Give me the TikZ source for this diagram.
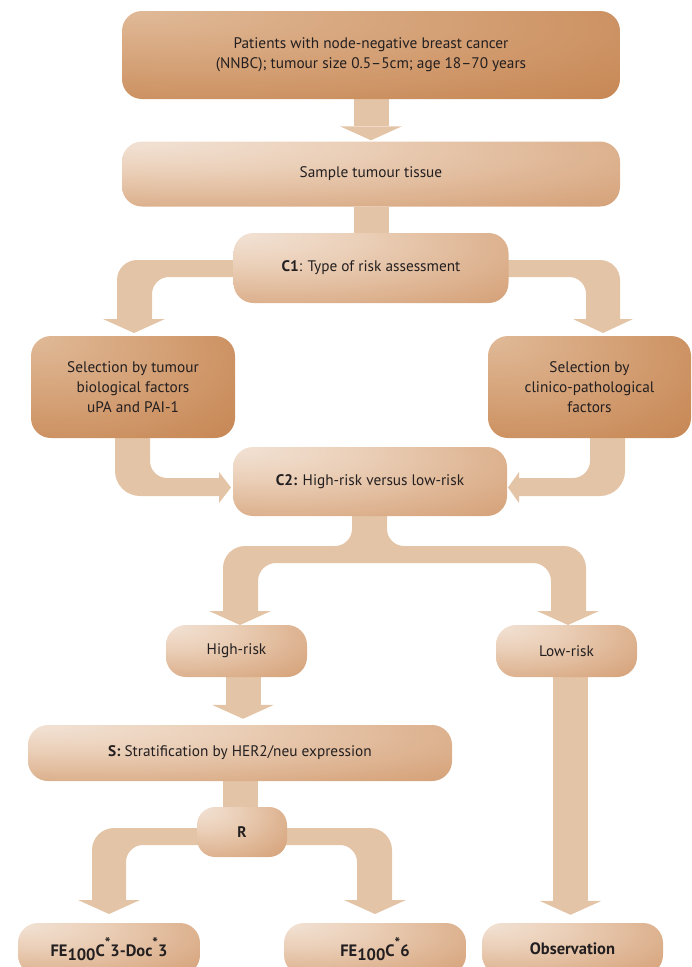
\documentclass[tikz,border=0pt]{standalone}
\usepackage{fontspec}
\setmainfont{PT Sans}
\usetikzlibrary{arrows.meta,backgrounds,calc}
\definecolor{conn}{HTML}{E4C4A6}
\definecolor{txt}{HTML}{231F20}
\definecolor{lb0}{HTML}{F2E2D5}
\definecolor{lb1}{HTML}{EBD0B9}
\definecolor{lb2}{HTML}{D9AA84}
\definecolor{lb3}{HTML}{C88C5E}
\definecolor{db0}{HTML}{E0BA98}
\definecolor{db1}{HTML}{D8A880}
\definecolor{db2}{HTML}{CA8D5C}
\definecolor{db3}{HTML}{BF7843}
\pgfdeclareradialshading{lightbox}{\pgfpoint{-25bp}{25bp}}{color(0bp)=(lb0); color(18bp)=(lb1); color(45bp)=(lb2); color(70bp)=(lb3); color(100bp)=(lb3)}
\pgfdeclareradialshading{darkbox}{\pgfpoint{-25bp}{25bp}}{color(0bp)=(db0); color(18bp)=(db1); color(45bp)=(db2); color(70bp)=(db3); color(100bp)=(db3)}
\newcommand{\subh}[1]{\raisebox{-3.5pt}{#1}}
\newcommand{\astk}{\raisebox{8pt}{\fontsize{15}{15}\selectfont *}}
\begin{document}
\begin{tikzpicture}[x=1pt,y=-1pt,
  box/.style={rounded corners=20pt, inner sep=0pt, align=center, text=txt,
    font=\fontsize{15.3}{20}\selectfont},
  lbox/.style={box, shading=lightbox},
  dbox/.style={box, shading=darkbox},
  endbox/.style={lbox, minimum height=52pt, font=\fontsize{16.5}{20}\selectfont\bfseries},
  bigarrow/.style={draw=conn, line width=35pt,
    -{Triangle[width=62pt,length=14pt,line width=0pt]}},
  shaft/.style={draw=conn, line width=35pt},
  connfill/.style={fill=conn}]
\path[use as bounding box] (0,0) rectangle (692,967);
\clip (0,0) rectangle (692,967);

\node[dbox, minimum width=498pt, minimum height=88pt] (top) at (371,55)
  {Patients with node-negative breast cancer\\(NNBC); tumour size 0.5–5cm; age 18–70 years};
\node[lbox, minimum width=498pt, minimum height=65pt] (sample) at (371,174)
  {Sample tumour tissue};
\node[lbox, minimum width=275pt, minimum height=70pt] (C1) at (371,268)
  {\textbf{C1}: Type of risk assessment};
\node[dbox, minimum width=204pt, minimum height=102pt] (selbio) at (133,387)
  {Selection by tumour\\biological factors\\uPA and PAI-1};
\node[dbox, minimum width=203pt, minimum height=102pt] (selclin) at (589.5,387)
  {Selection by\\clinico-pathological\\factors};
\node[lbox, minimum width=274pt, minimum height=69pt] (C2) at (370,481.5)
  {\textbf{C2:} High-risk versus low-risk};
\node[lbox, minimum width=141pt, minimum height=52pt] (high) at (236.5,651) {High-risk};
\node[lbox, minimum width=141pt, minimum height=52pt] (low) at (566.5,651) {Low-risk};
\node[lbox, minimum width=424pt, minimum height=56pt] (S) at (240,753)
  {\textbf{S:} Stratification by HER2/neu expression};
\node[lbox, rounded corners=18pt, minimum width=90pt, minimum height=50pt] (R) at (242,832)
  {\textbf{R}};
\node[endbox, minimum width=182pt] (fe1) at (109,949)
  {FE\subh{100}C\astk3-Doc\astk3};
\node[endbox, minimum width=182pt] (fe2) at (375,949)
  {FE\subh{100}C\astk6};
\node[endbox, minimum width=181pt] (obs) at (572.5,949)
  {Observation};

\begin{scope}[on background layer]
  % top -> sample -> C1
  \draw[bigarrow, shorten >=1pt] (top.south) -- (sample.north);
  \draw[shaft] (sample.south) -- (C1.north);
  % C1 branches
  \fill[connfill] (371,260) -- (137,260) .. controls (126,260) and (117,269) .. (117,280)
    -- (117,319) -- (103,319) -- (134,333) -- (165,319) -- (152,319) -- (152,294)
    .. controls (152,284.65) and (159.65,277) .. (169,277) -- (371,277) -- cycle;
  \fill[connfill] (371,260) -- (600,260) .. controls (611,260) and (620,269) .. (620,280)
    -- (620,319) -- (633,319) -- (603,333) -- (573,319) -- (586,319) -- (586,294)
    .. controls (586,284.65) and (578.65,277) .. (569,277) -- (371,277) -- cycle;
  % selection boxes -> C2
  \fill[connfill] (115,430) -- (115,471) .. controls (115,484.75) and (126.25,496) .. (140,496)
    -- (219,496) -- (219,503) -- (231,487.5) -- (219,472) -- (219,478) -- (167,478)
    .. controls (157.65,478) and (150,470.35) .. (150,461) -- (150,430) -- cycle;
  \fill[connfill] (590,430) -- (590,461) .. controls (590,470.35) and (582.35,478) .. (573,478)
    -- (519,478) -- (519,472) -- (508,487.5) -- (519,503) -- (519,496) -- (600,496)
    .. controls (613.75,496) and (625,484.75) .. (625,471) -- (625,430) -- cycle;
  % C2 -> high / low
  \fill[connfill] (352,510) -- (352,529) .. controls (352,538.35) and (344.35,546) .. (335,546)
    -- (245,546) .. controls (232.9,546) and (223,555.9) .. (223,568)
    -- (223,611) -- (209,611) -- (240,625) -- (271,611) -- (258,611)
    -- (258,581) .. controls (258,571.1) and (266.1,563) .. (276,563)
    -- (533,563) .. controls (542.9,563) and (551,571.1) .. (551,581)
    -- (551,611) -- (537,611) -- (568,625) -- (599,611) -- (586,611)
    -- (586,568) .. controls (586,555.9) and (576.1,546) .. (564,546)
    -- (404,546) .. controls (394.65,546) and (387,538.35) .. (387,529)
    -- (387,510) -- cycle;
  % high -> S -> R
  \draw[bigarrow] ($(high.south)+(6.5,0)$) -- ($(S.north)+(3,-6)$);
  \draw[shaft] (S.south) -- (S.south |- R.center);
  % R branches
  \fill[connfill] (242,828) -- (114,828) .. controls (101.9,828) and (92,837.9) .. (92,850)
    -- (92,900) -- (78,900) -- (109,914) -- (140,900) -- (126,900) -- (126,862)
    .. controls (126,852.65) and (133.65,845) .. (143,845) -- (242,845) -- cycle;
  \fill[connfill] (242,828) -- (370,828) .. controls (382.1,828) and (392,837.9) .. (392,850)
    -- (392,900) -- (406,900) -- (375,914) -- (344,900) -- (357,900) -- (357,862)
    .. controls (357,852.65) and (349.35,845) .. (340,845) -- (242,845) -- cycle;
  % low -> observation
  \draw[bigarrow] ($(low.south)+(4,0)$) -- ($(obs.north)+(-2,-8)$);
\end{scope}
\end{tikzpicture}
\end{document}
